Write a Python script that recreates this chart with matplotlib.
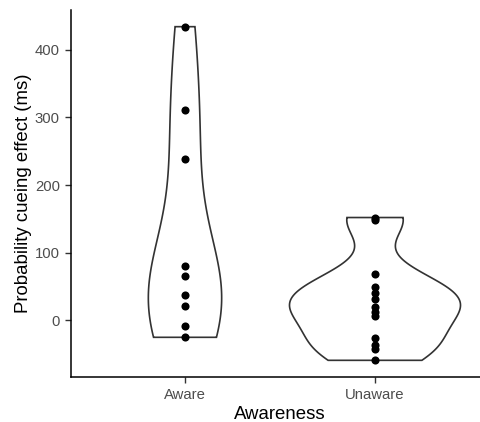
import numpy as np
import matplotlib.pyplot as plt

plt.rcParams['font.family'] = ['Liberation Sans', 'DejaVu Sans']

groups = ['Aware', 'Unaware']
aware = [434, 311, 238, 80, 66, 37, 21, -8, -25]
unaware = [152, 148, 68, 49, 41, 31, 20, 13, 6, -26, -36, -43, -59]
values = [aware, unaware]


def kde(x, grid):
    # gaussian kernel, R's nrd0 bandwidth
    x = np.asarray(x, float)
    q75, q25 = np.percentile(x, [75, 25])
    lo = min(np.std(x, ddof=1), (q75 - q25) / 1.34)
    bw = 0.9 * lo * len(x) ** -0.2
    z = (grid[:, None] - x[None, :]) / bw
    return np.exp(-0.5 * z ** 2).sum(axis=1) / (len(x) * bw * np.sqrt(2 * np.pi))


dens = []
for v in values:
    g = np.linspace(min(v), max(v), 512)
    dens.append((g, kde(v, g)))
dmax = max(d.max() for _, d in dens)

fig = plt.figure(figsize=(4.8, 4.22), dpi=100)
ax = fig.add_axes([71 / 480, 45 / 422, 418 / 480, 367 / 422])

for i, (g, d) in enumerate(dens):
    pos = i + 1
    hw = 0.45 * d / dmax
    xs = np.concatenate([pos - hw, (pos + hw)[::-1], [pos - hw[0]]])
    ys = np.concatenate([g, g[::-1], [g[0]]])
    ax.fill(xs, ys, facecolor='white', edgecolor='#333333', linewidth=1.2, zorder=2)
    ax.scatter(np.full(len(values[i]), pos), values[i], s=34, color='black',
               linewidths=0, zorder=3)

lo = min(min(v) for v in values)
hi = max(max(v) for v in values)
pad = 0.05 * (hi - lo)
ax.set_ylim(lo - pad, hi + pad)
ax.set_xlim(0.4, 2.6)

ax.set_xticks([1, 2])
ax.set_xticklabels(groups)
ax.set_yticks([0, 100, 200, 300, 400])
ax.tick_params(colors='#333333', labelcolor='#4D4D4D', labelsize=10.7,
               length=4.5, width=1.0)
ax.set_xlabel('Awareness', fontsize=13.4, labelpad=3)
ax.set_ylabel('Probability cueing effect (ms)', fontsize=13.4, labelpad=2)

for s in ['top', 'right']:
    ax.spines[s].set_visible(False)
for s in ['left', 'bottom']:
    ax.spines[s].set_linewidth(1.1)
    ax.spines[s].set_color('black')

fig.savefig('out.png', dpi=100)
